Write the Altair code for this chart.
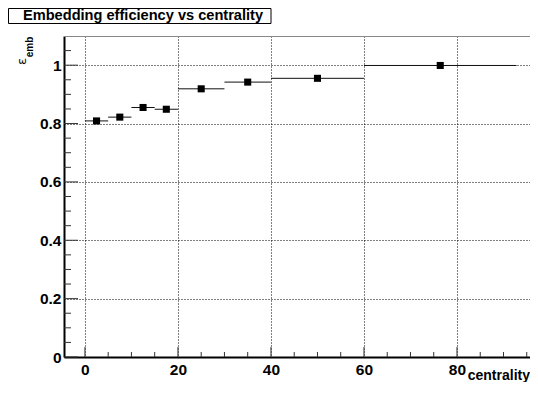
import altair as alt
import pandas as pd

# ---- data ----
bin_lo = [0, 5, 10, 15, 20, 30, 40, 60]
bin_hi = [5, 10, 15, 20, 30, 40, 60, 92.8]
bin_mid = [2.5, 7.5, 12.5, 17.5, 25, 35, 50, 76.4]
efficiency = [0.809, 0.822, 0.855, 0.849, 0.919, 0.942, 0.955, 0.999]

x_major = [0, 20, 40, 60, 80]
x_minor = [5, 10, 15, 25, 30, 35, 45, 50, 55, 65, 70, 75, 85, 90, 95]
y_major = [0, 0.2, 0.4, 0.6, 0.8, 1.0]
y_minor = [0.05, 0.1, 0.15, 0.25, 0.3, 0.35, 0.45, 0.5, 0.55, 0.65, 0.7, 0.75,
           0.85, 0.9, 0.95, 1.05]

title_text = "Embedding efficiency vs centrality"
x_title = "centrality"
y_title_main = "ε"
y_title_sub = "emb"

FONT = "Liberation Sans"
W, H = 466, 321

df = pd.DataFrame({"lo": bin_lo, "hi": bin_hi, "mid": bin_mid, "eff": efficiency})
xs = alt.Scale(domain=[-4.5, 95.7], nice=False, zero=False)
ys = alt.Scale(domain=[0, 1.1], nice=False, zero=False)

x_axis = alt.Axis(values=x_major, ticks=False, domainColor="black", domainWidth=2,
                  grid=True, gridColor="black", gridDash=[1, 2], gridWidth=1,
                  labelFont=FONT, labelFontSize=15.5, labelFontWeight="bold",
                  labelColor="black", labelPadding=5, title=None, labelFlush=False)
y_axis = alt.Axis(values=y_major, ticks=False, domainColor="black", domainWidth=2,
                  grid=True, gridColor="black", gridDash=[1, 2], gridWidth=1,
                  labelFont=FONT, labelFontSize=15.5, labelFontWeight="bold",
                  labelColor="black", labelPadding=3, title=None, format="~g",
                  labelFlush=False)

bars = alt.Chart(df).mark_rule(color="#111", strokeWidth=1).encode(
    x=alt.X("lo:Q", scale=xs, axis=x_axis),
    x2="hi:Q",
    y=alt.Y("eff:Q", scale=ys, axis=y_axis),
)
pts = alt.Chart(df).mark_square(size=50, color="black", opacity=1).encode(
    x=alt.X("mid:Q", scale=xs, axis=x_axis),
    y=alt.Y("eff:Q", scale=ys, axis=y_axis),
)

def yticks(vals, length):
    return alt.Chart(pd.DataFrame({"eff": vals})).mark_rule(color="#333", strokeWidth=1).encode(
        y=alt.Y("eff:Q", scale=ys, axis=y_axis), x=alt.value(0), x2=alt.value(length))

def xticks(vals, length):
    return alt.Chart(pd.DataFrame({"mid": vals})).mark_rule(color="#333", strokeWidth=1).encode(
        x=alt.X("mid:Q", scale=xs, axis=x_axis), y=alt.value(H), y2=alt.value(H - length))

top_frame = alt.Chart(pd.DataFrame({"v": [0]})).mark_rule(color="#888", strokeWidth=1).encode(
    y=alt.value(0.5), x=alt.value(0), x2=alt.value(W))

tdf = pd.DataFrame({"t": [title_text]})
title_box = alt.Chart(tdf).mark_rect(fill="white", stroke="black", strokeWidth=1).encode(
    x=alt.value(-55.5), x2=alt.value(207), y=alt.value(-27.5), y2=alt.value(-12.5))
title = alt.Chart(tdf).mark_text(font=FONT, fontSize=14.6, fontWeight="bold", align="left",
                                 baseline="alphabetic", color="black").encode(
    x=alt.value(-41), y=alt.value(-16.5), text="t:N")

xt = alt.Chart(pd.DataFrame({"t": [x_title]})).mark_text(
    font=FONT, fontSize=14, fontWeight="bold", align="right", baseline="alphabetic",
    color="black").encode(x=alt.value(W), y=alt.value(344), text="t:N")

yt1 = alt.Chart(pd.DataFrame({"t": [y_title_main]})).mark_text(
    font="DejaVu Sans", fontSize=13, angle=270, align="center", baseline="middle",
    color="black").encode(x=alt.value(-42.5), y=alt.value(25.5), text="t:N")
yt2 = alt.Chart(pd.DataFrame({"t": [y_title_sub]})).mark_text(
    font=FONT, fontSize=10, fontWeight="bold", angle=270, align="center", baseline="middle",
    color="black").encode(x=alt.value(-34), y=alt.value(11), text="t:N")

chart = alt.layer(
    bars, pts,
    yticks(y_major, 14), yticks(y_minor, 7),
    xticks(x_major, 10), xticks(x_minor, 5),
    top_frame, title_box, title, xt, yt1, yt2,
).properties(
    width=W, height=H, autosize="none",
    padding={"left": 56, "top": 28, "right": 0, "bottom": 25},
).configure_view(stroke=None)

chart.save("out.html", embed_options={"renderer": "svg", "actions": False})
